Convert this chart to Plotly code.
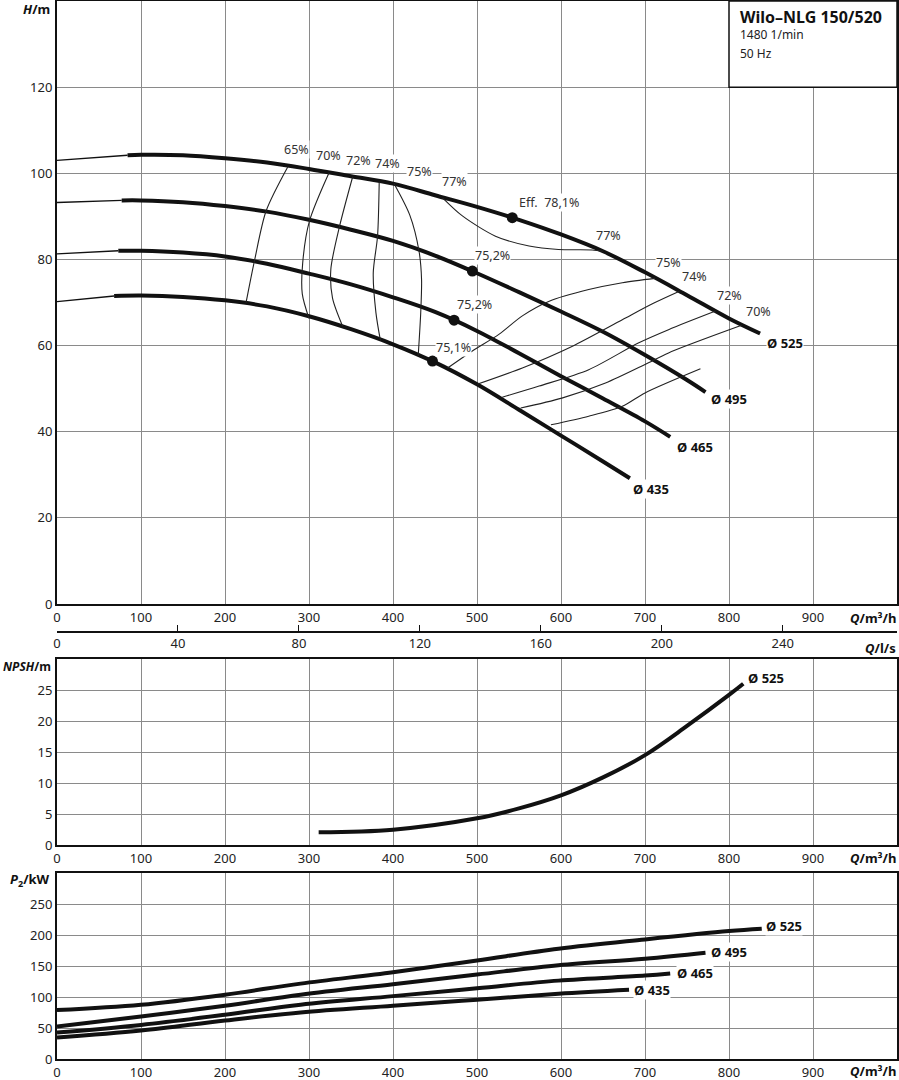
import plotly.graph_objects as go

# ---------------- data ----------------
# H-Q curves (Q in m3/h, H in m); first two points = thin start segment
Q525 = [0, 84, 100, 150, 200, 250, 300, 350, 400, 450, 500, 550, 600, 650, 700, 750, 800, 837]
H525 = [103.0, 104.2, 104.3, 104.2, 103.5, 102.5, 101.0, 99.3, 97.6, 94.9, 92.2, 89.2, 85.8, 81.9, 77.0, 71.7, 66.3, 62.8]
Q495 = [0, 77, 100, 150, 200, 250, 300, 350, 400, 450, 500, 550, 600, 650, 700, 750, 772]
H495 = [93.2, 93.7, 93.7, 93.3, 92.4, 91.1, 89.2, 86.9, 84.3, 80.9, 76.8, 72.4, 67.9, 63.2, 57.8, 52.0, 49.2]
Q465 = [0, 73, 100, 150, 200, 250, 300, 350, 400, 450, 500, 550, 600, 650, 700, 730]
H465 = [81.3, 82.0, 82.0, 81.6, 80.7, 79.0, 76.7, 74.2, 71.2, 67.8, 63.4, 58.2, 52.9, 47.7, 42.4, 38.8]
Q435 = [0, 68, 100, 150, 200, 250, 300, 350, 400, 450, 500, 550, 600, 650, 682]
H435 = [70.2, 71.5, 71.6, 71.3, 70.5, 69.1, 66.8, 63.8, 60.3, 56.1, 51.0, 45.1, 39.1, 33.1, 29.2]
diameters = ["Ø 525", "Ø 495", "Ø 465", "Ø 435"]

# best efficiency points
bep_Q = [542, 494.5, 472.7, 447]
bep_H = [89.7, 77.3, 65.9, 56.4]
bep_text = ["Eff.  78,1%", "75,2%", "75,2%", "75,1%"]

# iso-efficiency contours
eff_left = {
    "65%": ([275, 249, 235, 225], [101.6, 91.3, 79.6, 69.9]),
    "70%": ([324, 300.5, 292.5, 292, 300], [100.2, 88.9, 79.2, 72.0, 66.3]),
    "72%": ([352, 336, 326, 328, 340], [99.2, 87.4, 77.7, 71.0, 64.5]),
    "74%": ([383.6, 381.6, 376.5, 379.7, 385], [98.1, 85.4, 76.9, 67.6, 61.2]),
    "75%": ([401, 420, 431, 434, 433, 430], [97.7, 90.3, 81.9, 75.3, 67.6, 57.6]),
    "77%": ([459, 482.6, 522, 562, 597, 637, 650], [94.3, 90.1, 85.4, 83.1, 82.3, 82.2, 81.9]),
}
eff_right = {
    "75%": ([465, 494, 526, 554, 586, 633, 673, 712], [54.8, 58.7, 62.6, 66.9, 70.3, 73.0, 74.6, 75.6]),
    "74%": ([500, 554, 613, 673, 710, 741], [51.0, 54.8, 59.8, 66.0, 69.8, 72.6]),
    "72%": ([530, 574, 633, 692, 728, 784], [48.0, 50.6, 54.4, 60.6, 63.7, 68.0]),
    "70%": ([552, 601, 653, 700, 728, 815], [45.5, 47.8, 51.3, 55.6, 58.3, 64.7]),
    "65%": ([588, 633, 673, 700, 766], [41.6, 43.6, 45.9, 49.0, 54.6]),
}
# label positions (Q, H)
eff_labels = [("65%", 285, 105.6), ("70%", 323, 104.2), ("72%", 358.7, 103.0), ("74%", 394, 102.3),
              ("75%", 431, 100.5), ("77%", 472.7, 98.1), ("77%", 657, 85.6), ("75%", 728, 79.3),
              ("74%", 759, 76.0), ("72%", 800.5, 71.6), ("70%", 835, 67.9)]
bep_label_pos = [(585.5, 93.3), (519, 81.0), (497.6, 69.5), (471.5, 59.5)]
dia_label_H = [(867, 60.5), (800.5, 47.7), (760, 36.5), (706.7, 26.7)]

# NPSH
Qnpsh = [311.5, 400, 500, 550, 600, 650, 700, 750, 800, 817]
NPSH = [2.05, 2.47, 4.3, 5.9, 8.0, 10.9, 14.5, 19.2, 24.2, 26.0]

# P2
QP525 = [0, 100, 200, 290, 400, 500, 597, 700, 800, 839]
P525 = [78.9, 87.5, 103.7, 121.6, 140, 159, 177.8, 192.9, 206.3, 210.2]
QP495 = [0, 100, 200, 290, 400, 500, 597, 700, 772]
P495 = [52.4, 68.6, 85.9, 103.7, 120.7, 136.2, 151.2, 161.6, 171.3]
QP465 = [0, 100, 200, 290, 400, 500, 597, 700, 730]
P465 = [42.6, 55.0, 71.3, 87.5, 101.4, 114.0, 126.4, 134.5, 137.8]
QP435 = [0, 100, 200, 290, 400, 500, 597, 681]
P435 = [34.6, 45.9, 62.1, 75.0, 85.9, 95.7, 105.3, 111.8]
dia_label_P = [(866, 214), (800, 172), (760, 138), (708, 112)]

# axes ticks
q_ticks = list(range(0, 1001, 100))
q_text = [str(v) for v in range(0, 901, 100)] + [""]
ls_ticks = list(range(0, 241, 40))
h_ticks = list(range(0, 141, 20))
npsh_ticks = list(range(0, 31, 5))
p_ticks = list(range(0, 301, 50))

# ---------------- figure ----------------
FONT = "Noto Sans"
W, H = 899, 1080
ML, MR, MT, MB = 57, 2, 1, 21
PW, PH = W - ML - MR, H - MT - MB


def px(xp):
    return (xp - ML) / PW


def py(yp):
    return (H - MB - yp) / PH


fig = go.Figure()
thick = dict(color="#111111", width=4)
thin = dict(color="#111111", width=1.4)
contour = dict(color="#222222", width=1.1)

for Qs, Hs in zip([Q525, Q495, Q465, Q435], [H525, H495, H465, H435]):
    fig.add_trace(go.Scatter(x=Qs[:2], y=Hs[:2], mode="lines", line=thin, xaxis="x", yaxis="y",
                             showlegend=False, hoverinfo="skip"))
    fig.add_trace(go.Scatter(x=Qs[1:], y=Hs[1:], mode="lines", line=dict(thick, shape="spline", smoothing=1.0),
                             xaxis="x", yaxis="y", showlegend=False, hoverinfo="skip"))

for name, (cq, ch) in list(eff_left.items()) + list(eff_right.items()):
    fig.add_trace(go.Scatter(x=cq, y=ch, mode="lines", line=dict(contour, shape="spline", smoothing=0.8),
                             xaxis="x", yaxis="y", showlegend=False, hoverinfo="skip"))

fig.add_trace(go.Scatter(x=bep_Q, y=bep_H, mode="markers", marker=dict(color="#111111", size=11),
                         xaxis="x", yaxis="y", showlegend=False, hoverinfo="skip"))

# l/s axis carrier
fig.add_trace(go.Scatter(x=[0, 1000 / 3.6], y=[None, None], mode="lines", xaxis="x4", yaxis="y",
                         showlegend=False, hoverinfo="skip"))

fig.add_trace(go.Scatter(x=Qnpsh, y=NPSH, mode="lines", line=dict(thick, shape="spline", smoothing=1.0),
                         xaxis="x2", yaxis="y2", showlegend=False, hoverinfo="skip"))

for Qs, Ps in zip([QP525, QP495, QP465, QP435], [P525, P495, P465, P435]):
    fig.add_trace(go.Scatter(x=Qs, y=Ps, mode="lines", line=dict(thick, shape="spline", smoothing=1.0),
                             xaxis="x3", yaxis="y3", showlegend=False, hoverinfo="skip"))

tickfont = dict(family=FONT, size=13, color="#222222")
grid = dict(showgrid=True, gridcolor="#8a8a8a", gridwidth=1, zeroline=False, showline=True,
            linecolor="#111111", linewidth=2, mirror=True, ticks="", tickfont=tickfont, automargin=False)

fig.update_layout(
    width=W, height=H, margin=dict(l=ML, r=MR, t=MT, b=MB, autoexpand=False),
    paper_bgcolor="white", plot_bgcolor="white",
    xaxis=dict(grid, domain=[0, 1], range=[0, 1000], anchor="y", tickvals=q_ticks, ticktext=q_text),
    yaxis=dict(grid, domain=[py(604), 1], range=[0, 140], anchor="x", tickvals=h_ticks,
               ticktext=[str(v) for v in h_ticks[:-1]] + [""]),
    xaxis2=dict(grid, domain=[0, 1], range=[0, 1000], anchor="y2", tickvals=q_ticks, ticktext=q_text),
    yaxis2=dict(grid, domain=[py(845), py(659)], range=[0, 30], anchor="x2", tickvals=npsh_ticks,
                ticktext=[str(v) for v in npsh_ticks[:-1]] + [""]),
    xaxis3=dict(grid, domain=[0, 1], range=[0, 1000], anchor="y3", tickvals=q_ticks, ticktext=q_text),
    yaxis3=dict(grid, domain=[0, py(873)], range=[0, 300], anchor="x3", tickvals=p_ticks,
                ticktext=[str(v) for v in p_ticks[:-1]] + [""]),
    xaxis4=dict(overlaying="x", anchor="free", position=py(632), range=[0, 1000 / 3.6], side="bottom",
                tickvals=ls_ticks, showgrid=False, zeroline=False, showline=True, linecolor="#111111",
                linewidth=1.5, ticks="inside", ticklen=6, tickcolor="#111111", tickfont=tickfont,
                automargin=False),
)

# title box
fig.add_shape(type="rect", xref="x", yref="y", x0=800, x1=1000, y0=120, y1=140,
              fillcolor="white", line=dict(color="#111111", width=1.5), layer="above")
fig.add_annotation(x=px(738), y=py(17), xref="paper", yref="paper", xanchor="left", yanchor="middle",
                   text="<b>Wilo–NLG 150/520</b>", showarrow=False, font=dict(family=FONT, size=16, color="#111111"))
fig.add_annotation(x=px(738), y=py(35), xref="paper", yref="paper", xanchor="left", yanchor="middle",
                   text="1480 1/min", showarrow=False, font=dict(family=FONT, size=12, color="#222222"))
fig.add_annotation(x=px(738), y=py(53), xref="paper", yref="paper", xanchor="left", yanchor="middle",
                   text="50 Hz", showarrow=False, font=dict(family=FONT, size=12, color="#222222"))

lblfont = dict(family=FONT, size=12.5, color="#333333")
for t, q, h in eff_labels:
    fig.add_annotation(x=q, y=h, xref="x", yref="y", text=t, showarrow=False, font=lblfont,
                       bgcolor="white", borderpad=0)
for t, (q, h) in zip(bep_text, bep_label_pos):
    fig.add_annotation(x=q, y=h, xref="x", yref="y", text=t, showarrow=False, font=lblfont,
                       bgcolor="white", borderpad=0)
diafont = dict(family=FONT, size=13, color="#111111")
for t, (q, h) in zip(diameters, dia_label_H):
    fig.add_annotation(x=q, y=h, xref="x", yref="y", text="<b>" + t + "</b>", showarrow=False,
                       font=diafont, bgcolor="white", borderpad=0)
for t, (q, p) in zip(diameters, dia_label_P):
    fig.add_annotation(x=q, y=p, xref="x3", yref="y3", text="<b>" + t + "</b>", showarrow=False,
                       font=diafont, bgcolor="white", borderpad=0)
fig.add_annotation(x=844, y=27, xref="x2", yref="y2", text="<b>Ø 525</b>", showarrow=False,
                   font=diafont, bgcolor="white", borderpad=0)

axfont = dict(family=FONT, size=13, color="#111111")
for txt, xp, yp, anc, fs in [("<b><i>H</i>/m</b>", 52, 9, "right", 13),
                             ("<b><i>NPSH</i>/m</b>", 53, 666, "right", 12),
                             ("<b><i>P</i><sub>2</sub>/kW</b>", 52, 880, "right", 13),
                             ("<b><i>Q</i>/m³/h</b>", 898, 618, "right", 13),
                             ("<b><i>Q</i>/l/s</b>", 898, 648, "right", 13),
                             ("<b><i>Q</i>/m³/h</b>", 898, 858, "right", 13),
                             ("<b><i>Q</i>/m³/h</b>", 898, 1071, "right", 13)]:
    fig.add_annotation(x=px(xp), y=py(yp), xref="paper", yref="paper", xanchor=anc, yanchor="middle",
                       text=txt, showarrow=False, font=dict(axfont, size=fs))

fig.write_html("out.html", post_script="document.body.style.margin='0px';",
               config={"displayModeBar": False})
